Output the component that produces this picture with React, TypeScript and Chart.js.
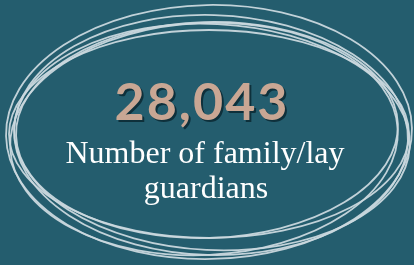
import React, { useEffect, useRef } from "react";
import { Chart, registerables } from "chart.js";

Chart.register(...registerables);

const values = [28043];
const labelLines = ["Number of family/lay", "guardians"];
const categories = ["Family/lay guardians"];

const BG = "#245d6e";
const NUM_COLOR = "#c9a794";
const STROKE = "rgba(202,216,222,0.95)";

const ellipses = [
  { cx: 209, cy: 132, rx: 203, ry: 127, rot: -0.02 },
  { cx: 211, cy: 135, rx: 197, ry: 120, rot: 0.03 },
  { cx: 207, cy: 130, rx: 191, ry: 108, rot: -0.03 },
  { cx: 212, cy: 137, rx: 198, ry: 113, rot: 0.05 },
  { cx: 204, cy: 139, rx: 194, ry: 116, rot: -0.05 },
  { cx: 209, cy: 134, rx: 200, ry: 104, rot: 0.0 },
];

const drawPlugin = {
  id: "infographic",
  beforeDraw(chart: any) {
    const ctx = chart.ctx as CanvasRenderingContext2D;
    const w = chart.width;
    const h = chart.height;
    ctx.save();
    ctx.fillStyle = BG;
    ctx.fillRect(0, 0, w, h);
    ctx.strokeStyle = STROKE;
    ctx.lineWidth = 1.8;
    for (const e of ellipses) {
      ctx.beginPath();
      ctx.ellipse(e.cx, e.cy, e.rx, e.ry, e.rot, 0, Math.PI * 2);
      ctx.stroke();
    }
    const v = chart.data.datasets[0].data[0] as number;
    const txt = v.toLocaleString("en-US");
    ctx.textAlign = "center";
    ctx.textBaseline = "alphabetic";
    ctx.font = "bold 52px Lato";
    (ctx as any).letterSpacing = "2px";
    ctx.fillStyle = "rgba(10,40,50,0.85)";
    ctx.fillText(txt, 204, 122);
    ctx.fillStyle = NUM_COLOR;
    ctx.fillText(txt, 202, 120);
    (ctx as any).letterSpacing = "0px";
    ctx.fillStyle = "#ffffff";
    ctx.font = "32px 'Liberation Serif'";
    ctx.fillText(labelLines[0], 205, 163);
    ctx.fillText(labelLines[1], 206, 198);
    ctx.restore();
  },
};

export default function App() {
  const ref = useRef<HTMLCanvasElement | null>(null);
  useEffect(() => {
    if (!ref.current) return;
    const chart = new Chart(ref.current, {
      type: "bar",
      data: {
        labels: categories,
        datasets: [
          {
            data: values,
            backgroundColor: "rgba(0,0,0,0)",
            borderWidth: 0,
          },
        ],
      },
      options: {
        responsive: false,
        animation: false,
        events: [],
        plugins: {
          legend: { display: false },
          tooltip: { enabled: false },
        },
        scales: {
          x: { display: false },
          y: { display: false },
        },
      },
      plugins: [drawPlugin],
    });
    return () => chart.destroy();
  }, []);
  return (
    <div
      style={{
        position: "fixed",
        left: 0,
        top: 0,
        width: 414,
        height: 265,
        background: BG,
      }}
    >
      <canvas ref={ref} width={414} height={265} style={{ display: "block" }} />
    </div>
  );
}
